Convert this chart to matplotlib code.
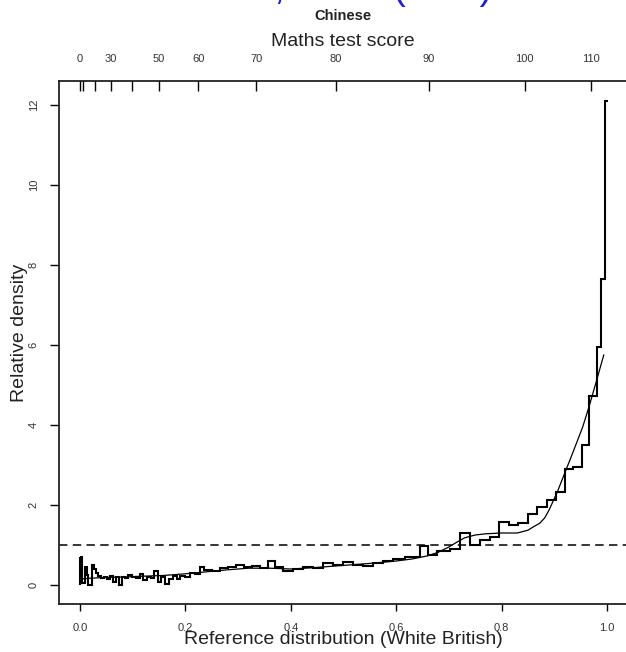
import numpy as np
import matplotlib
matplotlib.use("Agg")
import matplotlib.pyplot as plt

plt.rcParams["font.family"] = ["Liberation Sans", "DejaVu Sans"]

# Relative density histogram (step outline): bin edges on the reference scale and heights
bin_edges = [0.000, 0.004, 0.009, 0.013, 0.015, 0.023, 0.027, 0.030, 0.034, 0.040,
             0.046, 0.051, 0.057, 0.063, 0.068, 0.074, 0.080, 0.085, 0.091, 0.099,
             0.106, 0.114, 0.120, 0.127, 0.135, 0.140, 0.148, 0.154, 0.161, 0.169,
             0.176, 0.184, 0.190, 0.199, 0.209, 0.218, 0.228, 0.235, 0.250, 0.266,
             0.281, 0.296, 0.311, 0.326, 0.342, 0.357, 0.370, 0.385, 0.404, 0.423,
             0.442, 0.461, 0.480, 0.499, 0.518, 0.537, 0.556, 0.575, 0.594, 0.617,
             0.645, 0.660, 0.677, 0.702, 0.721, 0.740, 0.759, 0.778, 0.795, 0.814,
             0.831, 0.850, 0.867, 0.886, 0.903, 0.920, 0.935, 0.953, 0.966, 0.981,
             0.989, 0.996, 1.002]
bin_heights = [0.70, 0.05, 0.45, 0.25, 0.00, 0.50, 0.40, 0.30, 0.22, 0.17,
               0.20, 0.14, 0.22, 0.08, 0.20, 0.00, 0.20, 0.17, 0.25, 0.20,
               0.18, 0.28, 0.12, 0.20, 0.18, 0.35, 0.08, 0.20, 0.03, 0.15,
               0.22, 0.15, 0.22, 0.20, 0.30, 0.27, 0.45, 0.38, 0.35, 0.42,
               0.45, 0.50, 0.45, 0.48, 0.42, 0.60, 0.45, 0.35, 0.40, 0.45,
               0.42, 0.55, 0.50, 0.58, 0.50, 0.48, 0.55, 0.60, 0.65, 0.70,
               0.97, 0.75, 0.85, 0.90, 1.30, 1.00, 1.12, 1.20, 1.57, 1.50,
               1.55, 1.77, 1.95, 2.12, 2.33, 2.90, 2.95, 3.50, 4.72, 5.95,
               7.65, 12.10]

# Smoothed relative density
smooth_x = [0.000, 0.020, 0.050, 0.080, 0.120, 0.160, 0.200, 0.240, 0.280, 0.320,
            0.360, 0.400, 0.440, 0.480, 0.520, 0.560, 0.600, 0.630, 0.660, 0.680,
            0.700, 0.715, 0.730, 0.750, 0.770, 0.800, 0.830, 0.850, 0.860, 0.873,
            0.882, 0.890, 0.905, 0.920, 0.935, 0.954, 0.967, 0.979, 0.994]
smooth_y = [0.15, 0.17, 0.19, 0.20, 0.22, 0.24, 0.28, 0.33, 0.38, 0.42,
            0.42, 0.40, 0.43, 0.47, 0.51, 0.55, 0.60, 0.65, 0.73, 0.82,
            0.95, 1.07, 1.18, 1.25, 1.28, 1.30, 1.30, 1.37, 1.45, 1.55,
            1.68, 1.87, 2.30, 2.80, 3.30, 3.95, 4.50, 5.05, 5.75]

# Maths score quantiles of the reference group (top axis)
score_ticks = [0, 10, 20, 30, 40, 50, 60, 70, 80, 90, 100, 110]
score_pos = [0.000, 0.006, 0.028, 0.059, 0.099, 0.150, 0.224, 0.334, 0.486, 0.662, 0.844, 0.970]
score_labels = ["0", "", "", "30", "", "50", "60", "70", "80", "90", "100", "110"]

x_ticks = [0.0, 0.2, 0.4, 0.6, 0.8, 1.0]
y_ticks = [0, 2, 4, 6, 8, 10, 12]

W, H = 626, 652
fig = plt.figure(figsize=(W / 100, H / 100), dpi=100)
ax = fig.add_axes([59 / W, 48 / H, 569 / W, 523 / H])

ax.stairs(bin_heights, bin_edges, baseline=None, color="black", lw=1.5)
ax.vlines(bin_edges[0], 0, bin_heights[0], color="black", lw=1.5)
ax.plot(smooth_x, smooth_y, color="black", lw=0.9)
ax.axhline(1, color="black", lw=1.1, dashes=(5.5, 3.5))

ax.set_xlim(-0.04, 1.04)
ax.set_ylim(-0.475, 12.6)
ax.set_xticks(x_ticks)
ax.set_xticklabels([f"{v:.1f}" for v in x_ticks])
ax.set_yticks(y_ticks)
ax.set_yticklabels([str(v) for v in y_ticks], rotation=90, va="center")
ax.tick_params(axis="x", direction="out", length=5, width=1, pad=9,
               labelsize=8, labelcolor="#333333")
ax.tick_params(axis="y", direction="out", length=6.5, width=1, pad=8,
               labelsize=8, labelcolor="#333333")
for s in ax.spines.values():
    s.set_linewidth(1.3)
    s.set_color("#222222")

top = ax.twiny()
top.set_xlim(ax.get_xlim())
top.set_xticks(score_pos)
top.set_xticklabels(score_labels)
top.tick_params(axis="x", direction="in", length=7.5, width=1, pad=12,
                labelsize=8, labelcolor="#333333")
for s in top.spines.values():
    s.set_visible(False)

fig.text(343 / W, 1 - 640 / H, "Reference distribution (White British)",
         ha="center", va="center", fontsize=14, color="#222222")
fig.text(20 / W, 1 - 333 / H, "Relative density", rotation=90,
         ha="center", va="center", fontsize=14, color="#222222")
fig.text(343 / W, 1 - 42 / H, "Maths test score",
         ha="center", va="center", fontsize=14, color="#222222")
fig.text(343 / W, 1 - 16 / H, "Chinese", ha="center", va="center",
         fontsize=10.5, fontweight="bold", color="#222222")

# slide heading above the chart; its baseline sits just above the frame
fig.text(168 / W, 1 + 1 / H, "Maths, 2005 (KS2)", ha="left", va="baseline",
         fontsize=28, color="#2222cc")

fig.savefig("out.png", dpi=100)
